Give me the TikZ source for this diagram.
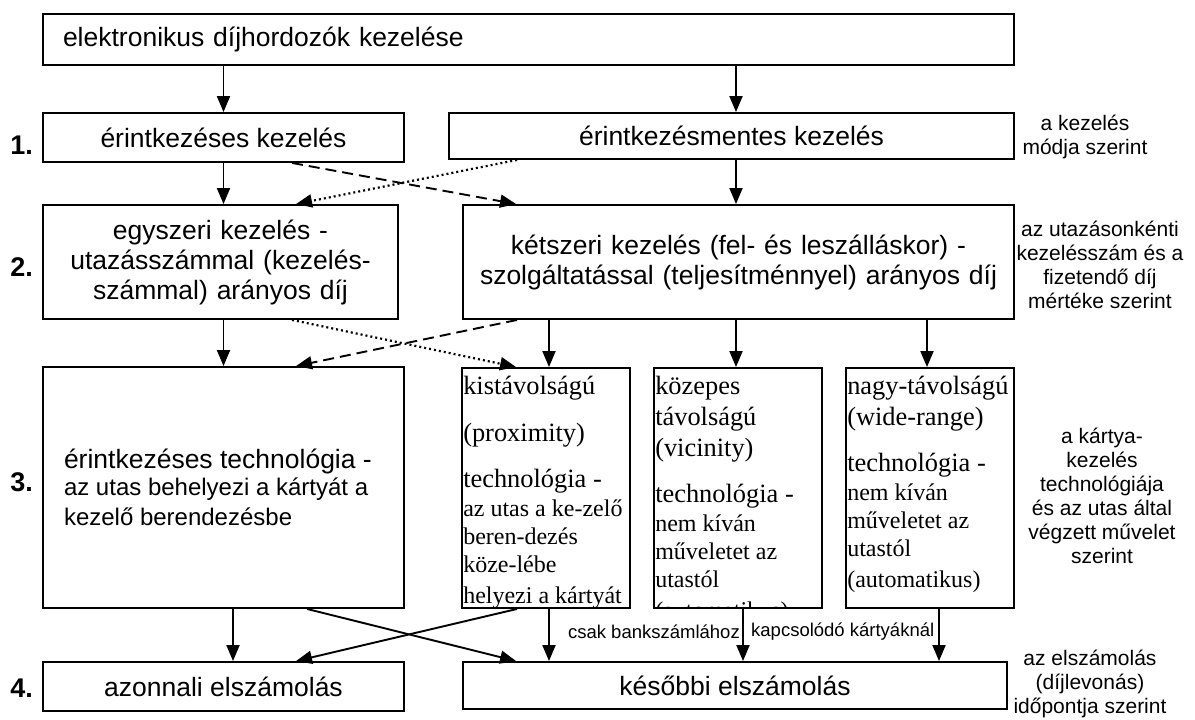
\documentclass[tikz,border=0pt]{standalone}
\usepackage{fontspec}
\setmainfont{Liberation Sans}
\newfontfamily\timesfont{Liberation Serif}
\usetikzlibrary{arrows.meta}
\setlength{\parindent}{0pt}

\begin{document}
\begin{tikzpicture}[x=1pt,y=-1pt,
  box/.style={draw,line width=1.9pt,inner sep=0pt,font=\fontsize{26.5}{30}\selectfont},
  arr/.style={line width=1.9pt,-{Triangle[length=16pt,width=13pt]}},
  dash arr/.style={arr,dash pattern=on 11pt off 6pt},
  dot arr/.style={arr,line width=2.2pt,dash pattern=on 2pt off 3pt},
  num/.style={anchor=east,inner sep=0pt,font=\bfseries\fontsize{27}{29}\selectfont},
  note/.style={align=center,inner sep=0pt,font=\fontsize{21}{24}\selectfont},
  banktext/.style={inner sep=0pt,font=\fontsize{18.5}{20}\selectfont},
  techtext/.style={anchor=north west,inner sep=0pt,text width=200pt,align=flush left,
    font=\timesfont\fontsize{26.4}{31}\selectfont}]

\useasboundingbox (0,0) rectangle (1195,720);

\node[box,minimum height=51pt,text width=931pt,inner xsep=20pt,align=left] (top) at (528.5,39.5)
  {elektronikus díjhordozók kezelése};

\node[box,minimum width=361pt,minimum height=49pt] (r1L) at (223.5,137.5) {érintkezéses kezelés};
\node[box,minimum width=565pt,minimum height=46pt] (r1R) at (731.5,136) {érintkezésmentes kezelés};

\node[box,minimum height=114pt,text width=355pt,align=center] (r2L) at (220.5,262)
  {egyszeri kezelés -\\utazásszámmal (kezelés-\\számmal) arányos díj};
\node[box,minimum height=114pt,text width=551pt,align=center] (r2R) at (738.5,262)
  {kétszeri kezelés (fel- és leszálláskor) -\\szolgáltatással (teljesítménnyel) arányos díj};

\node[box,minimum height=241pt,text width=319pt,inner xsep=21pt,align=flush left] (r3L) at (223.5,487.5)
  {érintkezéses technológia -\par
   \fontsize{24}{27}\selectfont az utas behelyezi a kártyát a\par kezelő berendezésbe};

\node[box,minimum width=168pt,minimum height=240pt] (kis) at (546,488) {};
\node[box,minimum width=168pt,minimum height=240pt] (koz) at (738,488) {};
\node[box,minimum width=168pt,minimum height=240pt] (nagy) at (930,488) {};

\node[techtext] (kisT) at ([xshift=2pt,yshift=-9pt]kis.north west)
  {kistávolságú\par
   \vspace{16pt}(proximity)\par
   \vspace{15pt}technológia -\par
   \fontsize{24}{29}\selectfont az utas a ke-zelő\par
   \fontsize{24}{28}\selectfont beren-dezés\par köze-lébe\par helyezi a kártyát};
\begin{scope}
\clip (koz.north west) rectangle (koz.south east);
\node[techtext] (kozT) at ([xshift=2pt,yshift=-9pt]koz.north west)
  {közepes\par távolságú\par (vicinity)\par
   \vspace{15pt}technológia -\par
   \fontsize{24}{29}\selectfont nem kíván\par
   \fontsize{24}{28}\selectfont műveletet az\par utastól\par (automatikus)};
\end{scope}
\node[techtext] (nagyT) at ([xshift=2pt,yshift=-9pt]nagy.north west)
  {nagy-távolságú\par (wide-range)\par
   \vspace{15pt}technológia -\par
   \fontsize{24}{29}\selectfont nem kíván\par
   \fontsize{24}{28}\selectfont műveletet az\par utastól\par (automatikus)};

\node[box,minimum width=361pt,minimum height=49pt] (r4L) at (223.5,686.5) {azonnali elszámolás};
\node[box,minimum width=544pt,minimum height=47pt] (r4R) at (735,685.5) {későbbi elszámolás};

\node[num] (n1) at (33,145) {1.};
\node[num] (n2) at (33,267) {2.};
\node[num] (n3) at (33,482) {3.};
\node[num] (n4) at (33,688) {4.};

\node[note] (m1) at (1085,136.5) {a kezelés\\módja szerint};
\node[note] (m2) at (1100,265) {az utazásonkénti\\kezelésszám és a\\fizetendő díj\\mértéke szerint};
\node[note] (m3) at (1102,496) {a kártya-\\kezelés\\technológiája\\és az utas által\\végzett művelet\\szerint};
\node[note] (m4) at (1090,684) {az elszámolás\\(díjlevonás)\\időpontja szerint};

\node[banktext,anchor=east] (bank1) at (740,632) {csak bankszámlához};
\node[banktext,anchor=west] (bank2) at (751,632) {kapcsolódó kártyáknál};

\draw[arr] (top.south -| r1L) -- (r1L.north);
\draw[arr] ([xshift=4.5pt]top.south -| r1R) -- ([xshift=4.5pt]r1R.north);
\draw[arr] (r1L.south) -- (r1L.south |- r2L.north);
\draw[arr] ([xshift=4.5pt]r1R.south) -- ([xshift=4.5pt]r1R.south |- r2R.north);
\draw[dash arr] ([xshift=250pt]r1L.south west) -- ([xshift=54pt]r2R.north west);
\draw[dot arr] ([xshift=69pt]r1R.south west) -- ([xshift=254pt]r2L.north west);

\draw[arr] (r3L.north |- r2L.south) -- (r3L.north);
\draw[dash arr] ([xshift=55pt]r2R.south west) -- ([xshift=254pt]r3L.north west);
\draw[dot arr] ([xshift=250pt]r2L.south west) -- ([xshift=55pt]kis.north west);
\draw[arr] ([xshift=3pt]kis.north |- r2R.south) -- ([xshift=3pt]kis.north);
\draw[arr] ([xshift=-2pt]koz.north |- r2R.south) -- ([xshift=-2pt]koz.north);
\draw[arr] ([xshift=-3pt]nagy.north |- r2R.south) -- ([xshift=-3pt]nagy.north);

\draw[arr] ([xshift=9.5pt]r3L.south) -- ([xshift=9.5pt]r3L.south |- r4L.north);
\draw[arr] ([xshift=265pt]r3L.south west) -- ([xshift=54pt]r4R.north west);
\draw[arr] ([xshift=56pt]kis.south west) -- ([xshift=254pt]r4L.north west);
\draw[arr] ([xshift=3pt]kis.south) -- ([xshift=3pt]kis.south |- r4R.north);
\draw[arr] ([xshift=5pt]koz.south) -- ([xshift=5pt]koz.south |- r4R.north);
\draw[arr] ([xshift=9pt]nagy.south) -- ([xshift=9pt]nagy.south |- r4R.north);

\end{tikzpicture}
\end{document}
